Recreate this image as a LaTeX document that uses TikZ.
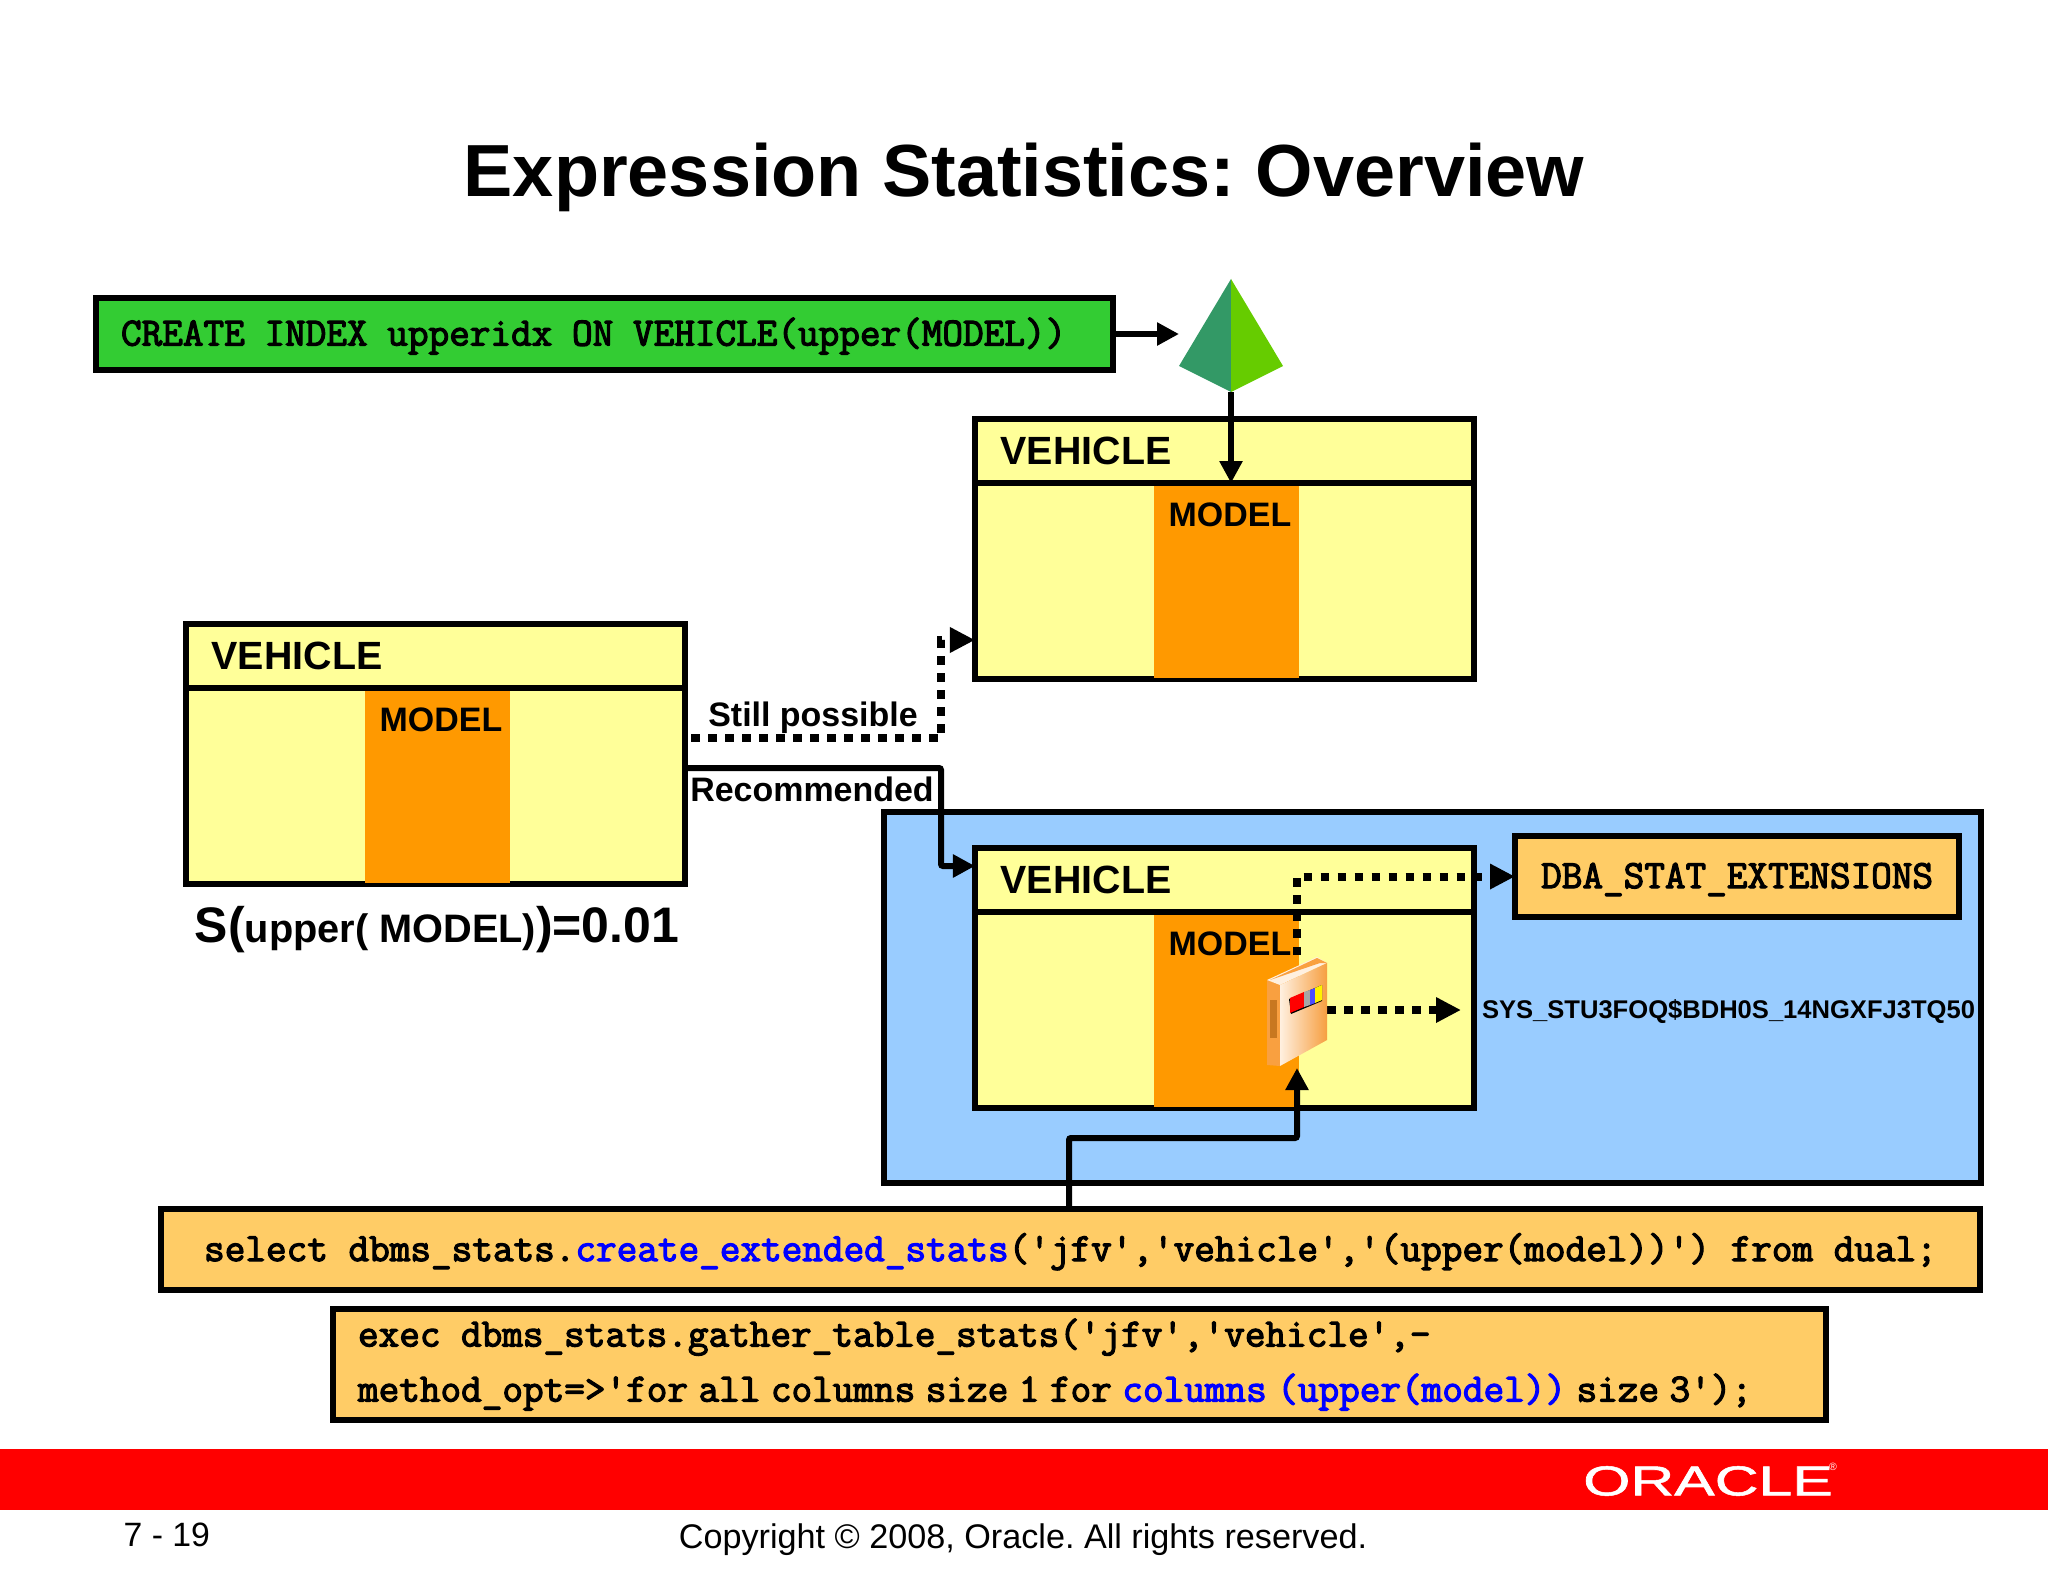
\documentclass[tikz,border=0pt]{standalone}
\usepackage{fontspec}
\setmainfont{Liberation Sans}
\setmonofont{Latin Modern Mono}[FakeBold=3]
\newfontfamily\logofont{Liberation Sans}[FakeBold=1.2]
\frenchspacing
\usetikzlibrary{arrows.meta}
\definecolor{tableyellow}{HTML}{FFFF99}
\definecolor{columnorange}{HTML}{FF9900}
\definecolor{schemablue}{HTML}{99CCFF}
\definecolor{codetan}{HTML}{FFCC66}
\definecolor{codegreen}{HTML}{33CC33}
\definecolor{pyrdark}{HTML}{339966}
\definecolor{pyrlight}{HTML}{66CC00}
\definecolor{codeblue}{HTML}{0000FF}
\definecolor{bookorange}{HTML}{F9A040}
\definecolor{bookdark}{HTML}{C87820}
\definecolor{bookpale}{HTML}{FFF0E0}
\tikzset{
	frameline/.style={draw=black, line width=0.06cm, outer sep=0, inner sep=0},
	vehbody/.style={frameline, fill=tableyellow, anchor=north west, minimum width=4.99cm, minimum height=2.6cm},
	vehhead/.style={frameline, anchor=north west, minimum width=4.99cm, minimum height=0.64cm},
	modelcol/.style={fill=columnorange, anchor=north west, outer sep=0, inner sep=0, minimum width=1.45cm, minimum height=1.92cm},
	vehlabel/.style={anchor=base west, inner sep=0, font=\bfseries\fontsize{11.2pt}{13pt}\selectfont},
	smalllabel/.style={inner sep=0, font=\bfseries\fontsize{9.65pt}{12pt}\selectfont},
	codebox/.style={frameline, fill=codetan, font=\ttfamily\bfseries\fontsize{11.39pt}{15.65pt}\selectfont},
	codeline/.style={codebox, text height=0.31cm, text depth=0.08cm},
	solidarrow/.style={line width=0.06cm, rounded corners=0.02cm, -{Triangle[length=0.22cm,width=0.22cm]}},
	dotarrow/.style={line width=0.08cm, dash pattern=on 0.085cm off 0.085cm, -{Triangle[length=0.25cm,width=0.24cm]}},
}
\def\vehtable(#1)(#2,#3){
	\node[vehbody] (#1) at (#2,#3) {};
	\node[modelcol] (#1col) at (#2+179,#3+67) {};
	\node[vehhead] (#1head) at (#2,#3) {};
	\node[vehlabel] (#1name) at (#2+25,#3+45) {VEHICLE};
	\node[smalllabel, anchor=base west] (#1model) at (#2+193,#3+107) {MODEL};
}

\begin{document}
\begin{tikzpicture}[x=0.01cm, y=-0.01cm]
		%%%%% PAGE %%%%%
		\useasboundingbox (0, 0) rectangle (2048, 1582);
		
		\node[font=\bfseries\fontsize{21pt}{25pt}\selectfont, inner sep=0] (title) at (1024, 177) {Expression Statistics: Overview};
		
		\node[fill=red, anchor=north west, outer sep=0, inner sep=0, minimum width=20.48cm, minimum height=0.61cm] (redbar) at (0, 1449) {};
		\node[text=white, inner sep=0, xscale=1.45, transform shape, font=\logofont\fontsize{11.9pt}{14pt}\selectfont] (oracle) at (1708, 1481) {ORACLE};
		\node[text=white, inner sep=0, font=\fontsize{3pt}{4pt}\selectfont] (oraclereg) at (1833, 1467) {®};
		\node[inner sep=0, anchor=base west, font=\fontsize{9.6pt}{12pt}\selectfont] (pageno) at (123, 1546) {7 - 19};
		\node[inner sep=0, anchor=base, font=\fontsize{9.72pt}{12pt}\selectfont] (copyright) at (1023, 1548) {Copyright © 2008, Oracle. All rights reserved.};
		
		%%%%% INDEX %%%%%
		\node[codeline, fill=codegreen, anchor=north west, minimum height=0.72cm, text width=9.66cm, inner xsep=0.25cm, align=left] (createidx) at (96, 298) {\spaceskip=0.197cm CREATE INDEX upperidx ON VEHICLE(upper(MODEL))};
		
		\coordinate (pyrT) at (1231, 279);
		\coordinate (pyrL) at (1179, 366);
		\coordinate (pyrR) at (1283, 366);
		\coordinate (pyrB) at (1231, 392);
		\fill[pyrdark] (pyrT) -- (pyrL) -- (pyrB) -- cycle;
		\fill[pyrlight] (pyrT) -- (pyrR) -- (pyrB) -- cycle;
		
		\vehtable(vehIdx)(975,419)
		\vehtable(vehOld)(186,624)
		
		\draw[solidarrow] (createidx.east) -- (pyrL |- createidx.east);
		\draw[solidarrow] (pyrB) -- (pyrB |- vehIdxhead.south);
		
		%%%%% OLD TABLE %%%%%
		\node[inner sep=0, font=\bfseries\fontsize{14.2pt}{17pt}\selectfont] (selectivity) at (437, 930) {S({\fontsize{11.3pt}{13pt}\selectfont upper( MODEL)})=0.01};
		
		\node[smalllabel] (stilltext) at (813, 718) {Still possible};
		\node[smalllabel] (rectext) at (812, 789) {Recommended};
		
		%%%%% EXTENSION %%%%%
		\node[frameline, fill=schemablue, anchor=north west, minimum width=10.96cm, minimum height=3.71cm] (schema) at (884, 812) {};
		\vehtable(vehExt)(975,848)
		\node[codeline, anchor=north west, minimum width=4.44cm, minimum height=0.81cm] (dba) at (1515, 836) {DBA\_STAT\_EXTENSIONS};
		\node[anchor=west, inner ysep=0, inner xsep=0.21cm, outer sep=0, font=\bfseries\fontsize{7.27pt}{9pt}\selectfont] (sysname) at (1461, 1012) {SYS\_STU3FOQ\$BDH0S\_14NGXFJ3TQ50};
		
		\coordinate (stillS) at (691, 738);
		\coordinate (stillC) at (941, 640);
		\coordinate (recS) at (685, 768);
		\coordinate (recC) at (941, 866);
		\draw[dotarrow] (stillS) -| (stillC) -- (vehIdx.west |- stillC);
		\draw[solidarrow] (recS) -| (recC) -- (vehExt.west |- recC);
		
		\coordinate (bookTop) at (1297, 955);
		\coordinate (bookRight) at (1327, 1010);
		\coordinate (bookBottom) at (1297, 1068);
		\draw[dotarrow] (bookTop) |- (dba.west);
		\draw[dotarrow] (bookRight) -- (bookRight -| sysname.west);
		
		% book
		\fill[bookorange] (1267, 980) -- (1280, 985) -- (1280, 1066) -- (1267, 1065) -- cycle;
		\fill[bookdark] (1270, 1000) rectangle (1277, 1038);
		\fill[bookpale] (1267, 980) -- (1317, 957) -- (1327, 963) -- (1280, 985) -- cycle;
		\fill[bookorange] (1270, 980) -- (1317, 958) -- (1327, 963) -- (1320, 963) -- cycle;
		\shade[left color=bookpale, middle color=bookorange, right color=bookorange!95!brown] (1280, 985) -- (1327, 963) -- (1327, 1040) -- (1280, 1066) -- cycle;
		\fill[black] (1289, 999) -- (1322, 985) -- (1322, 1001) -- (1291, 1014) -- cycle;
		\fill[red] (1290, 998) -- (1304, 992) -- (1304, 1007) -- (1290, 1013) -- cycle;
		\fill[gray!70] (1304, 992) -- (1310, 990) -- (1310, 1005) -- (1304, 1007) -- cycle;
		\fill[blue!70] (1310, 990) -- (1315, 988) -- (1315, 1003) -- (1310, 1005) -- cycle;
		\fill[yellow] (1315, 988) -- (1322, 985) -- (1322, 1000) -- (1315, 1003) -- cycle;
		
		%%%%% STATEMENTS %%%%%
		\node[codeline, anchor=north west, minimum width=18.18cm, minimum height=0.81cm] (selectstat) at (161, 1209) {select dbms\_stats.\textcolor{codeblue}{create\_extended\_stats}('jfv','vehicle','(upper(model))') from dual;};
		\node[codebox, anchor=north west, minimum height=1.11cm, text width=14.42cm, inner xsep=0.25cm, align=left] (execstat) at (333, 1309) {\spaceskip=0.205cm exec dbms\_stats.gather\_table\_stats('jfv','vehicle',-\\
			\spaceskip=0.105cm method\_opt=>'for all columns size 1 for \textcolor{codeblue}{columns (upper(model))} size 3');};
		
		\coordinate (selUp) at (1069, 1209);
		\coordinate (selMid) at (1297, 1138);
		\draw[solidarrow] (selUp) |- (selMid) -- (bookBottom);
		
		%%%%% END %%%%%
	\end{tikzpicture}
\end{document}
